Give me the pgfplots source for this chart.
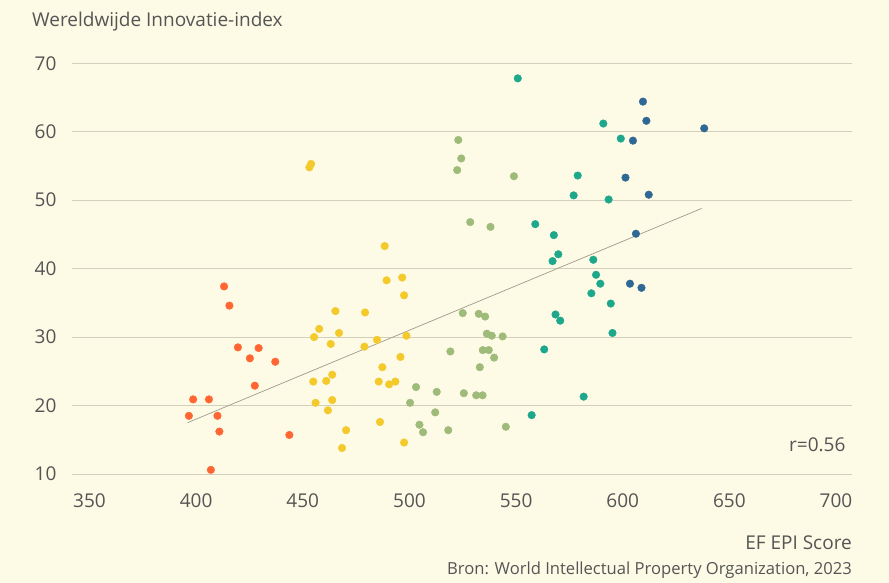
\documentclass[border=0pt]{standalone}
\usepackage{fontspec}
\setmainfont{Open Sans}
\usepackage{pgfplots}
\pgfplotsset{compat=1.18}
\definecolor{bg}{HTML}{FDFAE5}
\definecolor{gridc}{HTML}{D3CFBD}
\definecolor{txt}{HTML}{555555}
\definecolor{lineC}{HTML}{A09C8C}
\definecolor{c1}{HTML}{FF6633}
\definecolor{c2}{HTML}{F4C92A}
\definecolor{c3}{HTML}{9FBB7A}
\definecolor{c4}{HTML}{1DA88C}
\definecolor{c5}{HTML}{2F6894}
\pgfplotsset{dots/.style={only marks, mark=*, mark size=3.8pt, color=#1, mark options={fill=#1, draw=none}}}
\begin{document}
\begin{tikzpicture}
\fill[bg] (0,0) rectangle (889pt,583pt);
\begin{axis}[at={(72pt,109pt)}, anchor=south west, scale only axis,
  width=780pt, height=410.7pt,
  xmin=341.8, xmax=707.5, ymin=10, ymax=70,
  xtick={350,400,...,700}, ytick={10,20,...,70},
  ymajorgrids, grid style={color=gridc, line width=0.8pt},
  axis line style={draw=none}, major tick style={draw=none},
  tick label style={font=\fontsize{19}{22}\selectfont, text=txt},
  /pgf/number format/assume math mode=true,
  yticklabel style={anchor=east, xshift=-12pt},
  xticklabel style={anchor=north, yshift=-16pt},
  clip=false]
\addplot[no marks, color=lineC, line width=0.7pt] coordinates {(396,17.5) (637,48.8)};
\addplot[dots=c1] table {
x y
413.1 37.4
415.6 34.6
419.6 28.5
429.3 28.4
425.2 26.9
437.1 26.4
427.5 22.9
398.6 20.9
406.0 20.9
396.6 18.5
410.0 18.5
410.9 16.2
443.7 15.7
406.9 10.6
};
\addplot[dots=c2] table {
x y
453.1 54.8
453.9 55.3
488.4 43.3
489.3 38.3
496.6 38.7
497.5 36.1
465.3 33.8
479.2 33.6
457.7 31.2
455.3 30.0
467.0 30.6
463.1 29.0
498.6 30.2
484.8 29.6
478.9 28.6
495.8 27.1
487.3 25.6
463.8 24.5
454.9 23.5
461.0 23.6
485.6 23.5
490.5 23.1
493.4 23.5
456.0 20.4
463.8 20.8
461.8 19.3
486.2 17.6
470.3 16.4
468.4 13.8
497.5 14.6
};
\addplot[dots=c3] table {
x y
522.9 58.8
524.3 56.1
522.4 54.4
549.0 53.5
528.5 46.8
538.0 46.1
525.0 33.5
532.5 33.4
535.5 33.0
536.3 30.5
538.6 30.2
543.7 30.1
519.2 27.9
534.4 28.1
537.2 28.1
539.7 27.0
533.0 25.6
503.1 22.7
512.8 22.0
525.5 21.8
531.3 21.5
534.3 21.5
500.3 20.4
512.1 19.0
504.7 17.2
506.4 16.1
518.2 16.4
545.2 16.9
};
\addplot[dots=c4] table {
x y
550.8 67.8
559.0 46.5
567.7 44.9
569.8 42.1
567.1 41.1
568.5 33.3
570.7 32.4
563.2 28.2
557.3 18.6
590.9 61.2
599.1 59.0
578.9 53.6
577.0 50.7
593.4 50.1
586.2 41.3
587.5 39.1
589.5 37.8
585.3 36.4
594.4 34.9
595.2 30.6
581.7 21.3
};
\addplot[dots=c5] table {
x y
609.5 64.4
611.1 61.6
638.2 60.5
604.8 58.7
601.3 53.3
612.2 50.8
606.2 45.1
603.4 37.8
608.8 37.2
};
\node[anchor=east, text=txt, font=\fontsize{19}{22}\selectfont, inner sep=0pt] at (axis cs:704.5,14.3) {r=0.56};
\end{axis}
\node[anchor=west, text=txt, font=\fontsize{19}{22}\selectfont, inner sep=0pt] at (32pt,561pt) {Wereldwijde Innovatie-index};
\node[anchor=east, text=txt, font=\fontsize{19}{22}\selectfont, inner sep=0pt] at (852pt,40pt) {EF EPI Score};
\node[anchor=east, text=txt, font=\fontsize{16.6}{20}\selectfont, inner sep=0pt] at (852pt,13pt) {Bron: World Intellectual Property Organization, 2023};
\end{tikzpicture}
\end{document}
